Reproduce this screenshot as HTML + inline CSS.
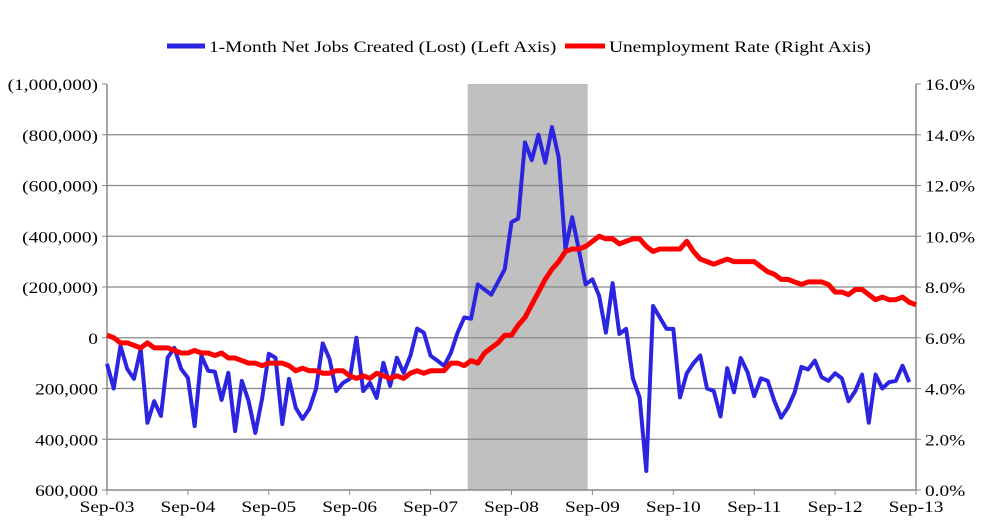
<!DOCTYPE html>
<html><head><meta charset="utf-8"><style>
body{margin:0;background:#fff;}
svg{display:block;font-family:"Liberation Serif",serif;}
</style></head><body>
<svg id="chart" width="986" height="530" xmlns="http://www.w3.org/2000/svg">
<g>
<line x1="167" y1="46" x2="205" y2="46" stroke="#2b24e0" stroke-width="5"/>
<text class="st" x="209" y="52" font-size="16">1-Month Net Jobs Created (Lost) (Left Axis)</text>
<line x1="565" y1="46" x2="605" y2="46" stroke="#f00" stroke-width="5"/>
<text class="st" x="609" y="52" font-size="16">Unemployment Rate (Right Axis)</text>
</g>
</svg>
<script>
const jobs=[103,200,32,123,162,44,335,250,308,78,40,123,
158,348,71,130,134,245,138,368,170,249,375,241,
63,79,340,162,276,320,281,202,22,83,210,178,
162,0,210,178,237,99,190,79,138,71,-36,-20,
71,90,111,60,-20,-80,-75,-210,-190,-170,-220,-270,
-455,-470,-770,-700,-800,-690,-830,-710,-350,-475,-345,-210,
-230,-165,-20,-215,-15,-35,160,235,525,-125,-80,-35,
-35,235,140,100,70,200,210,310,120,215,80,135,
230,160,170,250,315,275,215,115,125,90,155,170,
140,160,250,210,145,335,145,200,175,170,110,175];
const rate=[6.1,6.0,5.8,5.8,5.7,5.6,5.8,5.6,5.6,5.6,5.5,5.4,
5.4,5.5,5.4,5.4,5.3,5.4,5.2,5.2,5.1,5.0,5.0,4.9,
5.0,5.0,5.0,4.9,4.7,4.8,4.7,4.7,4.6,4.6,4.7,4.7,
4.5,4.4,4.5,4.4,4.6,4.5,4.4,4.5,4.4,4.6,4.7,4.6,
4.7,4.7,4.7,5.0,5.0,4.9,5.1,5.0,5.4,5.6,5.8,6.1,
6.1,6.5,6.8,7.3,7.8,8.3,8.7,9.0,9.4,9.5,9.5,9.6,
9.8,10.0,9.9,9.9,9.7,9.8,9.9,9.9,9.6,9.4,9.5,9.5,
9.5,9.5,9.8,9.4,9.1,9.0,8.9,9.0,9.1,9.0,9.0,9.0,
9.0,8.8,8.6,8.5,8.3,8.3,8.2,8.1,8.2,8.2,8.2,8.1,
7.8,7.8,7.7,7.9,7.9,7.7,7.5,7.6,7.5,7.5,7.6,7.4,7.3];
const leftTicks=["(1,000,000)","(800,000)","(600,000)","(400,000)","(200,000)","0","200,000","400,000","600,000"];
const leftTickVals=[-1000,-800,-600,-400,-200,0,200,400,600];
const rightTickVals=[0,2,4,6,8,10,12,14,16];
const xLabels=["Sep-03","Sep-04","Sep-05","Sep-06","Sep-07","Sep-08","Sep-09","Sep-10","Sep-11","Sep-12","Sep-13"];
const recession=[53.5,71.3];
const L=107,R=916,T=84,B=490,NM=120;
const NS="http://www.w3.org/2000/svg";
const svg=document.getElementById('chart');
const x=m=>L+m*(R-L)/NM;
const yL=v=>T+(v+1000)*(B-T)/1600;
const yR=v=>B-v*(B-T)/16;
function mk(t,a){const e=document.createElementNS(NS,t);for(const k in a)e.setAttribute(k,a[k]);svg.appendChild(e);return e;}
let r=mk('rect',{x:x(recession[0]),y:T,width:x(recession[1])-x(recession[0]),height:B-T,fill:'#c0c0c0'});


leftTickVals.forEach((v,i)=>{
 if(i>0&&i<leftTickVals.length-1){const g=mk('line',{x1:L,x2:R,y1:yL(v),y2:yL(v),stroke:'#888','stroke-width':1.2});
 
 }
 const t=mk('text',{x:98,y:yL(v)+6,'text-anchor':'end','font-size':16,'class':'st'});t.textContent=leftTicks[i];
 
 
 mk('line',{x1:L-5,x2:L,y1:yL(v),y2:yL(v),stroke:'#888'});
});
rightTickVals.forEach(v=>{
 const t=mk('text',{x:925,y:yR(v)+6,'font-size':16,'class':'st'});t.textContent=v.toFixed(1)+'%';
 
 
 mk('line',{x1:R,x2:R+5,y1:yR(v),y2:yR(v),stroke:'#888'});
});
xLabels.forEach((s,i)=>{
 const t=mk('text',{x:x(i*12),y:512,'text-anchor':'middle','font-size':16,'class':'st'});t.textContent=s;
 
 
 mk('line',{x1:x(i*12),x2:x(i*12),y1:B,y2:B+5,stroke:'#888'});
});
mk('line',{x1:L,x2:L,y1:T,y2:B,stroke:'#888','stroke-width':1.5});
mk('line',{x1:R,x2:R,y1:T,y2:B,stroke:'#888','stroke-width':1.5});
mk('line',{x1:L,x2:R,y1:B,y2:B,stroke:'#888','stroke-width':1.5});
let pj=mk('polyline',{points:jobs.map((v,i)=>x(i)+','+yL(v)).join(' '),fill:'none',stroke:'#2b24e0','stroke-width':4,'stroke-linejoin':'round'});


let pr=mk('polyline',{points:rate.map((v,i)=>x(i)+','+yR(v)).join(' '),fill:'none',stroke:'#f00','stroke-width':5,'stroke-linejoin':'round'});


document.querySelectorAll('text.st').forEach(t=>{
 const w=t.getComputedTextLength();
 t.setAttribute('textLength',(w*1.21).toFixed(1));
 t.setAttribute('lengthAdjust','spacingAndGlyphs');
});
</script>
</body></html>
